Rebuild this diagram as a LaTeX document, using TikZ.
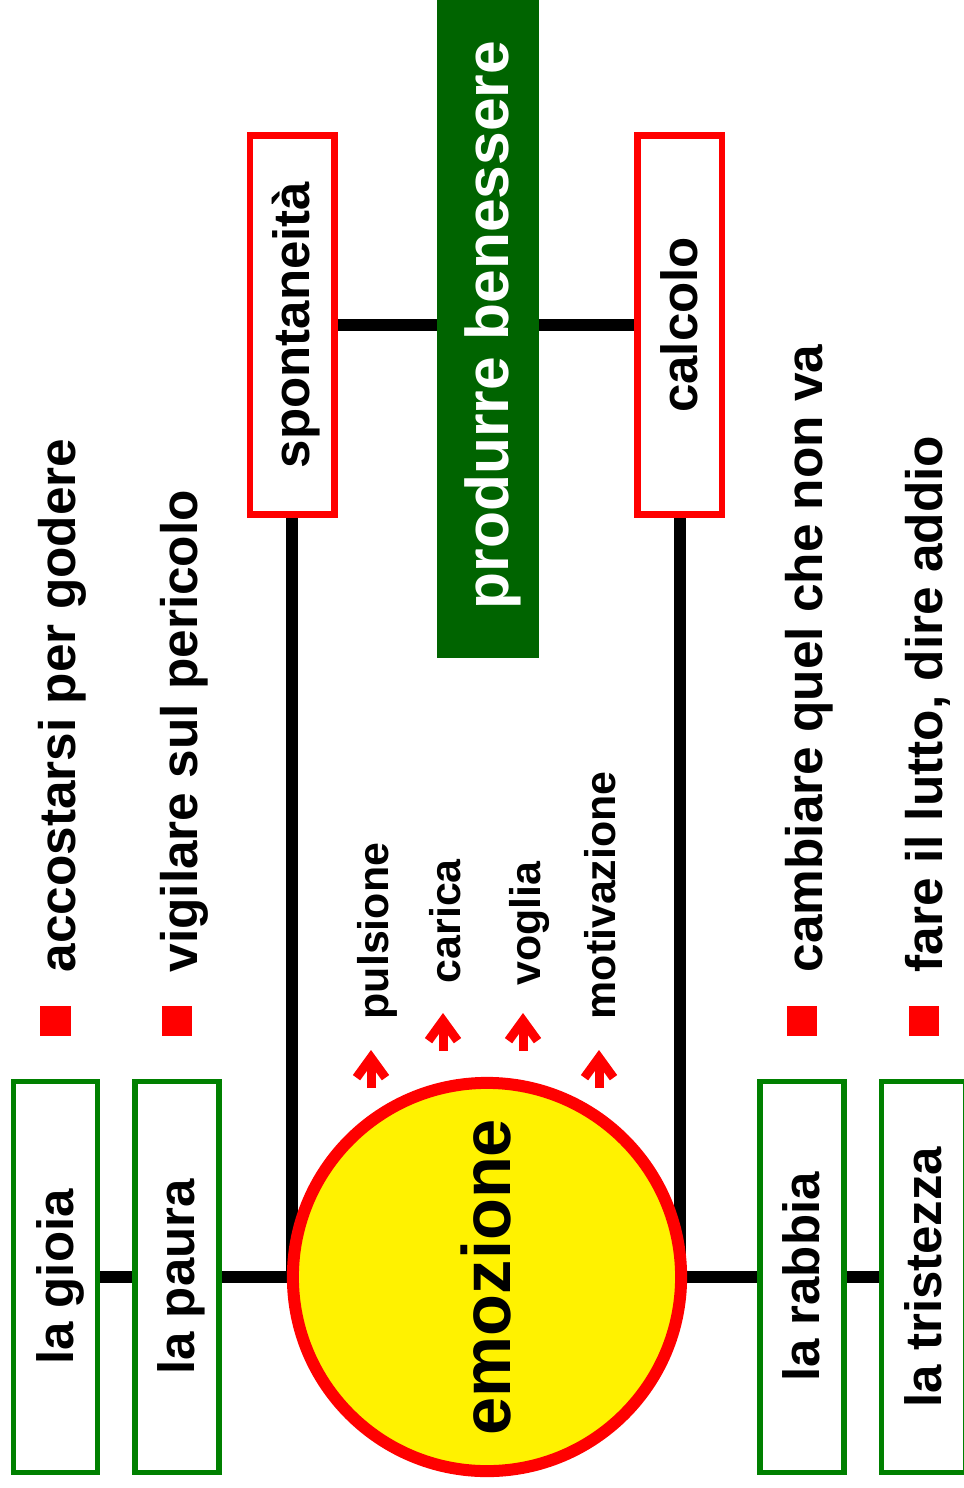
\documentclass[tikz,border=0pt]{standalone}
\usepackage{fontspec}
\setmainfont{Liberation Sans}
\usepackage{graphicx}
\usetikzlibrary{arrows.meta}
\usetikzlibrary{positioning,backgrounds}
\definecolor{boxgreen}{RGB}{0,128,0}
\definecolor{darkgreen}{RGB}{0,100,0}
\def\V#1{\rotatebox{90}{\rule[-0.212em]{0pt}{1.117em}#1}}
\def\fs#1{\fontsize{#1}{#1}\selectfont}

\begin{document}
\begin{tikzpicture}[%
        x=0.01cm, y=-0.01cm,
        every node/.style={inner sep=0pt, font=\bfseries},
        emotion/.style={rectangle, draw=boxgreen, line width=0.055cm, minimum width=0.84cm, minimum height=3.91cm, font=\bfseries\fs{14.5}},
        mode/.style={rectangle, draw=red, line width=0.065cm, minimum width=0.845cm, minimum height=3.785cm, font=\bfseries\fs{14.5}},
        bullet/.style={rectangle, fill=red, minimum size=0.3cm},
        aim/.style={rotate=90, anchor=base west, font=\bfseries\fs{14.6}},
        drive/.style={rotate=90, anchor=base west, font=\bfseries\fs{12.2}},
        link/.style={line width=0.12cm},
        push/.style={red, line width=0.09cm, -{Straight Barb[length=0.2cm,width=0.29cm]}},
        node distance=0.32cm
      ]
      \useasboundingbox (0,0) rectangle (963,1488);
      \node [] (0) [circle, draw=red, fill=yellow, line width=0.12cm, minimum size=3.88cm, font=\bfseries\fs{19.5}] at (487,1277) {\V{emozione}};
      \node [] (2) [emotion, left=0.65cm of 0] {\V{la paura}};
      \node [] (1) [emotion, left=of 2] {\V{la gioia}};
      \node [] (3) [emotion, right=0.7cm of 0] {\V{la rabbia}};
      \node [] (4) [emotion, right=of 3] {\V{la tristezza}};
      \node [] (6) [rectangle, fill=darkgreen, text=white, minimum width=1.01cm, minimum height=6.66cm, font=\bfseries\fs{17.2}] at (488,325) {\V{produrre benessere}};
      \node [] (5) [mode, left=0.99cm of 6] {\V{spontaneità}};
      \node [] (7) [mode, right=0.95cm of 6] {\V{calcolo}};
      \node [] (8) [bullet, above=0.42cm of 1] {};
      \node [] (9) [bullet, above=0.42cm of 2] {};
      \node [] (10) [bullet, above=0.42cm of 3] {};
      \node [] (11) [bullet, above=0.42cm of 4] {};
      \node [] (12) [aim] at (75,973) {accostarsi per godere};
      \node [] (13) [aim] at (197,973) {vigilare sul pericolo};
      \node [] (14) [aim] at (822,973) {cambiare quel che non va};
      \node [] (15) [aim] at (942,973) {fare il lutto, dire addio};
      \node [] (16) [drive] at (388,1020) {pulsione};
      \node [] (17) [drive] at (460,984) {carica};
      \node [] (18) [drive] at (540,986) {voglia};
      \node [] (19) [drive] at (615,1020) {motivazione};
      \foreach \x/\y [count=\i] in {371/1088, 443/1051, 523/1051, 599/1088} {
        \coordinate (t\i) at (\x,\y);
        \coordinate (h\i) at (\x,\y-38);
        \draw [push] (t\i) -- (h\i);
      }
      \begin{scope}[on background layer]
      \path [draw, link] (1) edge (2)
      (2) edge (0)
      (0) edge (3)
      (3) edge (4)
      (5) edge (6)
      (6) edge (7)
      (5) edge (5.south |- 0.west)
      (7) edge (7.south |- 0.east);
      \end{scope}
     \end{tikzpicture}
\end{document}
